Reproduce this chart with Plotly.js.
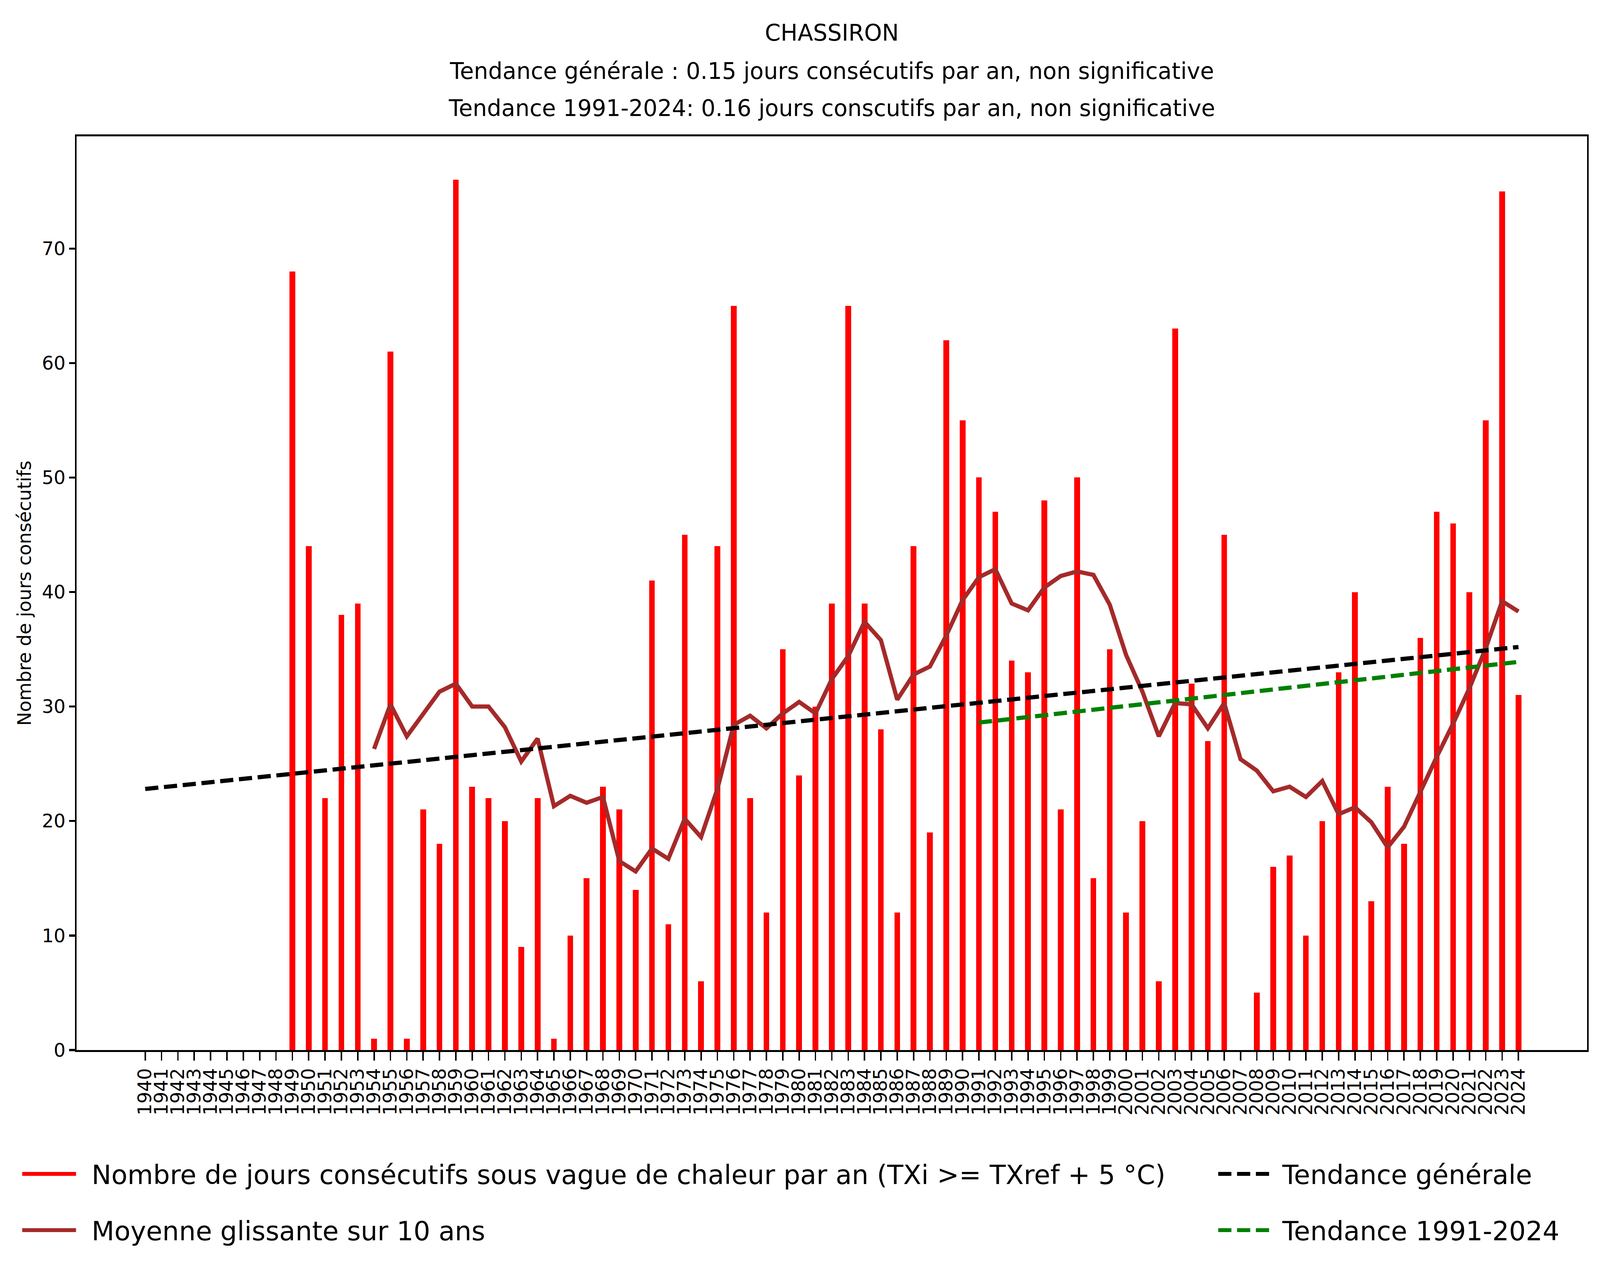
<!DOCTYPE html>
<html>
<head>
<meta charset="utf-8">
<script src="https://cdn.plot.ly/plotly-3.0.1.min.js"></script>
<style>
  html, body { margin: 0; padding: 0; background: #ffffff; overflow: hidden; }
  #chart { position: absolute; left: 0; top: 0; }
</style>
</head>
<body>
<div id="chart"></div>
<script>
// ---- data ----
const firstYear = 1940;
const lastYear = 2024;
const years = [];
for (let y = firstYear; y <= lastYear; y++) years.push(y);

// Nombre de jours consécutifs sous vague de chaleur, 1940..2024
const heatDays = [
  0, 0, 0, 0, 0, 0, 0, 0, 0,            // 1940-1948
  68, 44, 22, 38, 39, 1, 61, 1, 21, 18, // 1949-1958
  76, 23, 22, 20, 9, 22, 1, 10, 15, 23, // 1959-1968
  21, 14, 41, 11, 45, 6, 44, 65, 22, 12, // 1969-1978
  35, 24, 30, 39, 65, 39, 28, 12, 44, 19, // 1979-1988
  62, 55, 50, 47, 34, 33, 48, 21, 50, 15, // 1989-1998
  35, 12, 20, 6, 63, 32, 27, 45, 0, 5,   // 1999-2008
  16, 17, 10, 20, 33, 40, 13, 23, 18, 36, // 2009-2018
  47, 46, 40, 55, 75, 31                 // 2019-2024
];

// Moyenne glissante sur 10 ans, 1954..2024
const rollingYears = [];
for (let y = 1954; y <= lastYear; y++) rollingYears.push(y);
const rollingMean = [
  26.3, 30.2, 27.4, 29.4, 31.3, 32.0, 30.0, 30.0, 28.2, 25.2, // 1954-1963
  27.2, 21.3, 22.2, 21.6, 22.1, 16.5, 15.6, 17.6, 16.7, 20.2, // 1964-1973
  18.6, 22.8, 28.4, 29.2, 28.1, 29.4, 30.4, 29.4, 32.4, 34.4, // 1974-1983
  37.4, 35.8, 30.6, 32.8, 33.5, 36.2, 39.3, 41.3, 42.0, 39.0, // 1984-1993
  38.4, 40.4, 41.4, 41.8, 41.5, 38.9, 34.5, 31.3, 27.4, 30.3, // 1994-2003
  30.2, 28.1, 30.3, 25.4, 24.4, 22.6, 23.0, 22.1, 23.5, 20.6, // 2004-2013
  21.2, 19.9, 17.7, 19.5, 22.6, 25.6, 28.5, 31.6, 35.1, 39.2, // 2014-2023
  38.3                                                       // 2024
];

// Tendances (extrémités)
const trendAllYears = [1940, 2024];
const trendAllValues = [22.8, 35.2];
const trendRecentYears = [1991, 2024];
const trendRecentValues = [28.6, 33.9];

const yTicks = [0, 10, 20, 30, 40, 50, 60, 70];
const xTickText = years.map(String);

const titleLines = [
  'CHASSIRON',
  'Tendance générale : 0.15 jours consécutifs par an, non significative',
  'Tendance 1991-2024: 0.16 jours conscutifs par an, non significative'
];
const labels = {
  bars: 'Nombre de jours consécutifs sous vague de chaleur par an (TXi >= TXref + 5 °C)',
  rolling: 'Moyenne glissante sur 10 ans',
  trendAll: 'Tendance générale',
  trendRecent: 'Tendance 1991-2024',
  yTitle: 'Nombre de jours consécutifs'
};

// ---- sizing: positions given in reference pixels (5946 x 3292), fitted to the window ----
const REF_W = 5946, REF_H = 3292;
const W = window.innerWidth || REF_W;
const H = window.innerHeight || REF_H;
const fx = W / REF_W;            // horizontal factor
const fy = H / REF_H;            // vertical factor
const fm = Math.sqrt(fx * fy);   // for line thickness
const fs = fx;                   // font factor (keeps text extents in proportion)

// plot box in reference pixels
const BOX = { left: 284, right: 5898, top: 349, bottom: 2688 };
const paperY = yr => (BOX.bottom - yr) / (BOX.bottom - BOX.top);

const FONT = 'DejaVu Sans, Liberation Sans, sans-serif';
const PAD1 = '\u00a0\u2009';
const PAD2 = '\u00a0';
const DASH = (49 * fx) + 'px,' + (21 * fx) + 'px';
const LW = 13 * fm;

const traces = [
  {
    type: 'bar', x: years, y: heatDays, width: 0.35,
    marker: { color: '#ff0000', line: { width: 0 } },
    showlegend: false, hoverinfo: 'skip'
  },
  {
    // legend handle for the bars (thick red line, as in the reference)
    type: 'scatter', mode: 'lines', x: [null], y: [null],
    line: { color: '#ff0000', width: 34 * fm },
    name: PAD1 + labels.bars, legend: 'legend', showlegend: true
  },
  {
    type: 'scatter', mode: 'lines', x: rollingYears, y: rollingMean,
    line: { color: '#a52a2a', width: LW },
    name: PAD1 + labels.rolling, legend: 'legend3'
  },
  {
    type: 'scatter', mode: 'lines', x: trendAllYears, y: trendAllValues,
    line: { color: '#000000', width: LW, dash: DASH },
    name: PAD2 + labels.trendAll, legend: 'legend2'
  },
  {
    type: 'scatter', mode: 'lines', x: trendRecentYears, y: trendRecentValues,
    line: { color: '#008000', width: LW, dash: DASH },
    name: PAD2 + labels.trendRecent, legend: 'legend4'
  }
];

// legend entries: handle start x and row centre y (reference px)
const LEG_FONT = 98 * fs;
const itemH = Math.max(LEG_FONT * 1.3, 16) + 3;
function legendAt(handleX, centreY) {
  const originPx = handleX * fx - 5;                 // plotly draws the handle 5px after the item origin
  const topPx = centreY * fy - (5 + itemH / 2);
  return {
    x: (originPx - BOX.left * fx) / ((BOX.right - BOX.left) * fx), xanchor: 'left',
    y: (BOX.bottom * fy - topPx) / ((BOX.bottom - BOX.top) * fy), yanchor: 'top',
    orientation: 'v', bgcolor: 'rgba(0,0,0,0)', borderwidth: 0,
    font: { family: FONT, size: LEG_FONT, color: '#000000' },
    itemwidth: Math.max(30, 200 * fx)
  };
}

const tickFont = { family: FONT, size: 69 * fs, color: '#000000' };
const titleFont = { family: FONT, size: 84 * fs, color: '#000000' };
const layout = {
  width: W, height: H,
  margin: { l: BOX.left * fx, r: (REF_W - BOX.right) * fx, t: BOX.top * fy, b: (REF_H - BOX.bottom) * fy, pad: 0 },
  paper_bgcolor: '#ffffff', plot_bgcolor: '#ffffff',
  font: { family: FONT, size: 69 * fs, color: '#000000' },
  title: {
    text: titleLines[0],
    font: titleFont,
    xref: 'paper', x: 0.5, xanchor: 'center',
    yref: 'container', y: 1 - 84 / REF_H, yanchor: 'middle'
  },
  annotations: [
    { text: titleLines[1], xref: 'paper', yref: 'paper', x: 0.5, y: paperY(182),
      xanchor: 'center', yanchor: 'middle', showarrow: false, font: titleFont },
    { text: titleLines[2], xref: 'paper', yref: 'paper', x: 0.5, y: paperY(277),
      xanchor: 'center', yanchor: 'middle', showarrow: false, font: titleFont }
  ],
  xaxis: {
    range: [1935.8, 2028.2],
    tickmode: 'array', tickvals: years, ticktext: xTickText,
    tickangle: -90,
    ticks: 'outside', ticklen: 22 * fy, tickwidth: 5.3 * fx, tickcolor: '#000000',
    showline: true, linewidth: 5.3 * fy, linecolor: '#000000', mirror: true,
    showgrid: false, zeroline: false,
    tickfont: tickFont,
    automargin: false, fixedrange: true
  },
  yaxis: {
    range: [0, 79.8],
    tickmode: 'array', tickvals: yTicks, ticktext: yTicks.map(String),
    ticks: 'outside', ticklen: 22 * fx, tickwidth: 5.3 * fy, tickcolor: '#000000',
    showline: true, linewidth: 5.3 * fx, linecolor: '#000000', mirror: true,
    showgrid: false, zeroline: false,
    tickfont: tickFont,
    title: { text: labels.yTitle, font: tickFont, standoff: 20 * fx },
    automargin: false, fixedrange: true
  },
  legend: legendAt(82, 3005),
  legend3: legendAt(82, 3149),
  legend2: legendAt(4527, 3005),
  legend4: legendAt(4527, 3149),
  bargap: 0, showlegend: true
};

const el = document.getElementById('chart');
el.style.width = W + 'px';
el.style.height = H + 'px';
Plotly.newPlot(el, traces, layout, { displayModeBar: false, responsive: false, staticPlot: true });
</script>
</body>
</html>
